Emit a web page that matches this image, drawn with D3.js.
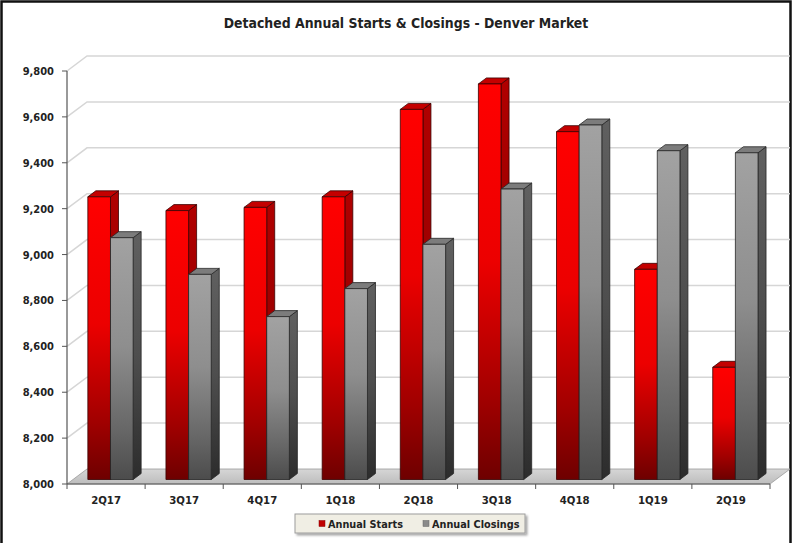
<!DOCTYPE html>
<html><head><meta charset="utf-8">
<script src="https://cdn.jsdelivr.net/npm/d3@7"></script>
<style>
html,body{margin:0;padding:0;background:#fff;}
svg text{font-family:"DejaVu Sans Condensed","DejaVu Sans",sans-serif;font-stretch:condensed;font-weight:bold;fill:#222;}
</style></head>
<body>
<svg id="c" width="793" height="543"></svg>
<script>
const categories = ["2Q17","3Q17","4Q17","1Q18","2Q18","3Q18","4Q18","1Q19","2Q19"];
const seriesNames = ["Annual Starts","Annual Closings"];
const starts   = [9232, 9172, 9186, 9232, 9613, 9724, 9516, 8916, 8489];
const closings = [9054, 8894, 8710, 8832, 9025, 9266, 9545, 9433, 9424];
const yTicks = [8000,8200,8400,8600,8800,9000,9200,9400,9600,9800];
const title = "Detached Annual Starts & Closings - Denver Market";

(function(){
const svg = d3.select("#c");
const W = 793, H = 543;
const pL = 67, pR = 770, pT = 71, pB = 484;
const DX = 20, DY = -15;          // depth of floor / back wall
const fDX = 6, fDY = -4.5;        // bar front offset
const bDX = 14, bDY = -10.5;      // bar back offset

const x0 = d3.scaleBand().domain(categories).range([pL, pR]).padding(0);
const bw = x0.bandwidth();
const xs = d3.scaleBand().domain(seriesNames).range([0.19*bw, 0.77*bw]).padding(0);
const y = d3.scaleLinear().domain([8000, 9800]).range([pB, pT]);

const defs = svg.append("defs");
function vgrad(id, stops){
  const g = defs.append("linearGradient").attr("id", id).attr("x1",0).attr("y1",0).attr("x2",0).attr("y2",1);
  stops.forEach(s => g.append("stop").attr("offset", s[0]).attr("stop-color", s[1]));
}
vgrad("redFront", [[0,"#ff0000"],[0.45,"#ec0000"],[0.8,"#a00000"],[1,"#6e0000"]]);
vgrad("redSide",  [[0,"#b00000"],[0.5,"#9a0000"],[1,"#4a0000"]]);
vgrad("greyFront",[[0,"#a2a2a2"],[0.45,"#8e8e8e"],[0.8,"#666"],[1,"#4c4c4c"]]);
vgrad("greySide", [[0,"#606060"],[0.5,"#4e4e4e"],[1,"#2c2c2c"]]);
vgrad("floorG",   [[0,"#d6d6d6"],[1,"#bdbdbd"]]);
const f = defs.append("filter").attr("id","sh").attr("x","-10%").attr("y","-30%").attr("width","130%").attr("height","180%");
f.append("feDropShadow").attr("dx",2).attr("dy",2).attr("stdDeviation",1.2).attr("flood-color","#000").attr("flood-opacity",0.35);

const colors = {
  "Annual Starts":   {front:"url(#redFront)", side:"url(#redSide)", top:"#c40000", stroke:"#3a0000", legend:"#c00000"},
  "Annual Closings": {front:"url(#greyFront)", side:"url(#greySide)", top:"#7c7c7c", stroke:"#262626", legend:"#8a8a8a"}
};

svg.append("rect").attr("x",1.5).attr("y",1.5).attr("width",W-4).attr("height",H+4)
  .attr("fill","#fff").attr("stroke","#111").attr("stroke-width",2.5);

svg.append("text").attr("x",406).attr("y",28).attr("text-anchor","middle")
  .style("font-size","13.9px").text(title);

const grid = svg.append("g");
yTicks.forEach(v => {
  const yy = y(v);
  if (v === 8000) return;
  grid.append("path")
    .attr("d", `M${pL},${yy} L${pL+DX},${yy+DY} L${pR+DX},${yy+DY}`)
    .attr("fill","none").attr("stroke","#d6d6d6").attr("stroke-width",1.5);
});

svg.append("path")
  .attr("d", `M${pL},${pB} L${pR},${pB} L${pR+DX},${pB+DY} L${pL+DX},${pB+DY} Z`)
  .attr("fill","url(#floorG)").attr("stroke","#9a9a9a").attr("stroke-width",0.8);

svg.append("line").attr("x1",pL).attr("x2",pL).attr("y1",pT).attr("y2",pB)
  .attr("stroke","#555").attr("stroke-width",1.2);
const yAx = svg.append("g");
yTicks.forEach(v => {
  yAx.append("line").attr("x1",pL-5).attr("x2",pL).attr("y1",y(v)).attr("y2",y(v))
    .attr("stroke","#555").attr("stroke-width",1);
  yAx.append("text").attr("x",54).attr("y",y(v)).attr("dy","0.36em").attr("text-anchor","end")
    .style("font-size","11px").text(d3.format(",")(v));
});

svg.append("line").attr("x1",pL).attr("x2",pR).attr("y1",pB).attr("y2",pB)
  .attr("stroke","#555").attr("stroke-width",1.2);
categories.forEach((c,i) => {
  const xx = x0(c);
  svg.append("line").attr("x1",xx).attr("x2",xx).attr("y1",pB).attr("y2",pB+5)
    .attr("stroke","#555").attr("stroke-width",1);
  svg.append("text").attr("x",xx+bw/2).attr("y",504).attr("text-anchor","middle")
    .style("font-size","11.3px").text(c);
});
svg.append("line").attr("x1",pR).attr("x2",pR).attr("y1",pB).attr("y2",pB+5)
  .attr("stroke","#555").attr("stroke-width",1);

const bars = svg.append("g");
const seriesVals = {"Annual Starts": starts, "Annual Closings": closings};
categories.forEach((c,i) => {
  seriesNames.forEach(s => {
    const v = seriesVals[s][i];
    const col = colors[s];
    const fx = x0(c) + xs(s), w = xs.bandwidth();
    const xl = fx + fDX, xr = xl + w;
    const yt = y(v) + fDY, yb = y(8000) + fDY;
    const ddx = bDX - fDX, ddy = bDY - fDY;
    const g = bars.append("g").attr("stroke", col.stroke).attr("stroke-width",0.8).attr("stroke-linejoin","round");
    g.append("path").attr("d", `M${xr},${yt} L${xr+ddx},${yt+ddy} L${xr+ddx},${yb+ddy} L${xr},${yb} Z`).attr("fill", col.side);
    g.append("path").attr("d", `M${xl},${yt} L${xr},${yt} L${xr+ddx},${yt+ddy} L${xl+ddx},${yt+ddy} Z`).attr("fill", col.top);
    g.append("rect").attr("x", xl).attr("y", yt).attr("width", w).attr("height", yb-yt).attr("fill", col.front);
  });
});

const lg = svg.append("g");
lg.append("rect").attr("x",295).attr("y",514).attr("width",230).attr("height",19)
  .attr("fill","#f0eee4").attr("stroke","#9c9c9c").attr("stroke-width",1).attr("filter","url(#sh)");
const legendX = [319, 423];
seriesNames.forEach((s,i) => {
  lg.append("rect").attr("x",legendX[i]).attr("y",520.5).attr("width",6).attr("height",6)
    .attr("fill",colors[s].legend).attr("stroke", i===0?"#800":"#666").attr("stroke-width",0.5);
  lg.append("text").attr("x",legendX[i]+9).attr("y",527.5).style("font-size","10.8px").text(s);
});
})();
</script>
</body></html>
